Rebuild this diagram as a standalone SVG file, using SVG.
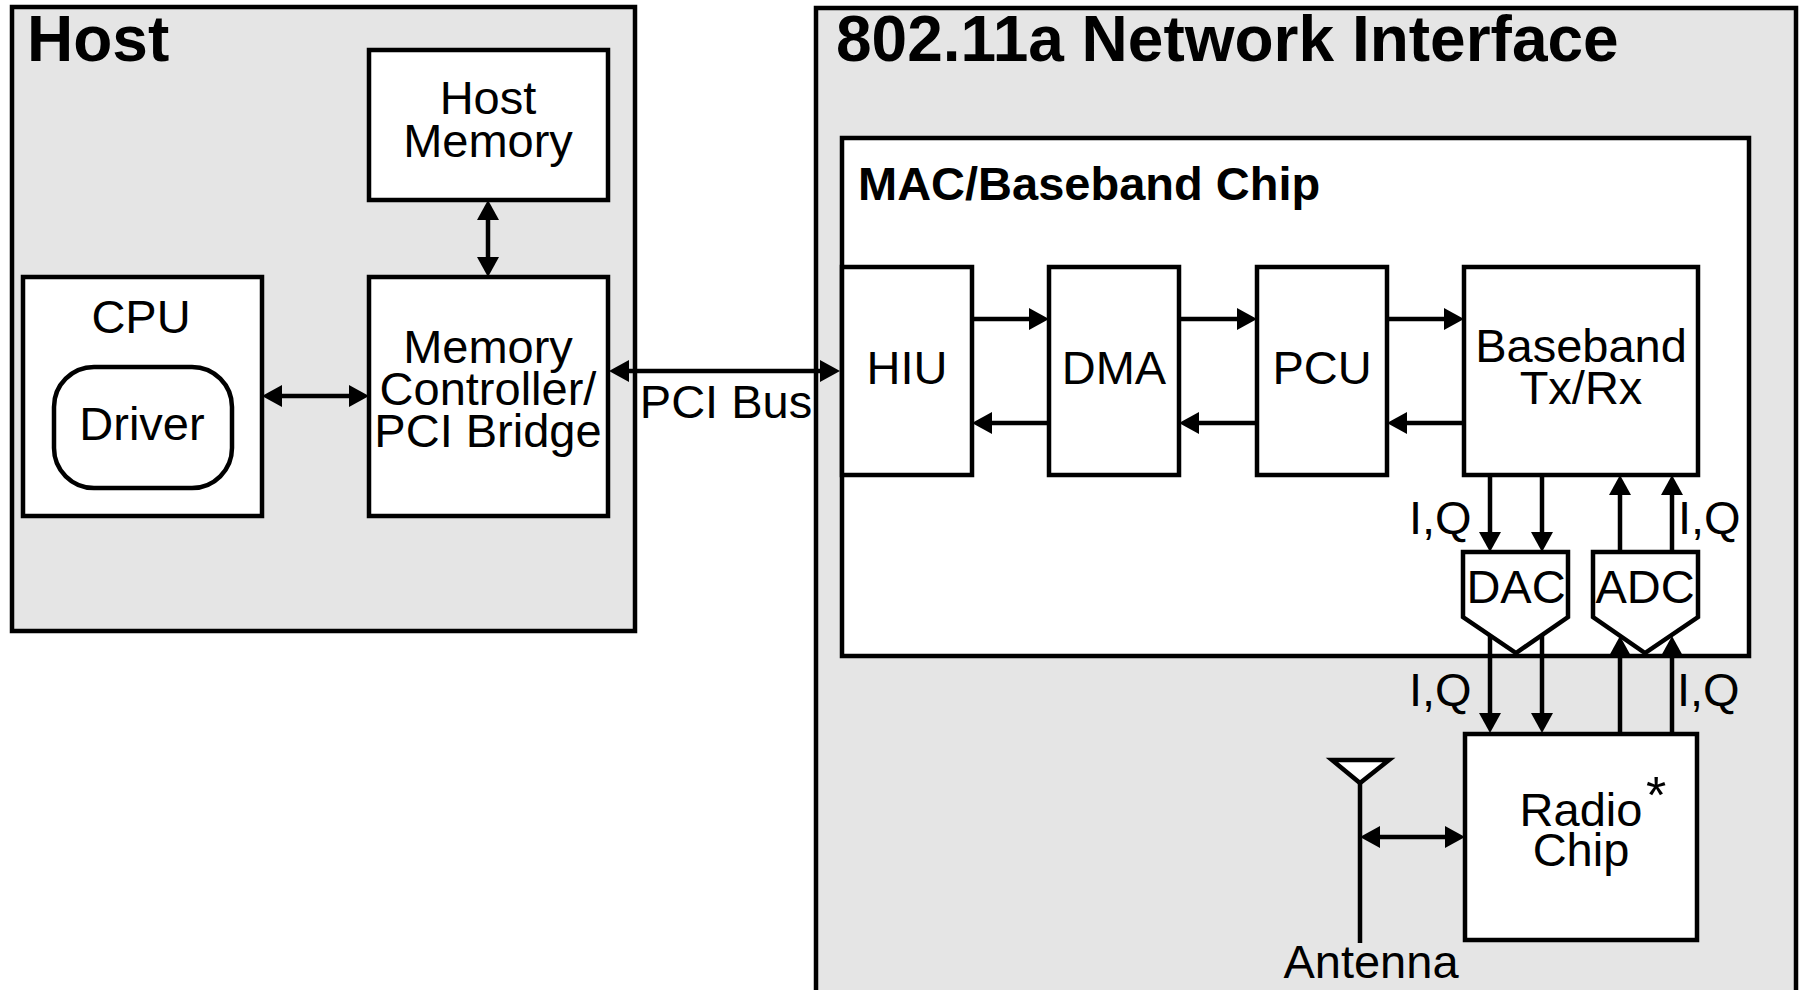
<svg xmlns="http://www.w3.org/2000/svg" width="1803" height="990" viewBox="0 0 1803 990">
<style>
.outer{fill:#e5e5e5;stroke:#000;stroke-width:4.5}
.box{fill:#fff;stroke:#000;stroke-width:4.5}
.ln{fill:none;stroke:#000;stroke-width:4.5}
text{font-family:"Liberation Sans",Arial,Helvetica,sans-serif;fill:#000}
.lbl{font-size:47px;text-anchor:middle}
.lbs{font-size:47px}
.ttl{font-size:64px;font-weight:bold}
.sub{font-size:47px;font-weight:bold}
</style>
<defs>
<marker id="ah" viewBox="0 0 20 22" refX="10" refY="11" markerWidth="20" markerHeight="22" markerUnits="userSpaceOnUse" orient="auto-start-reverse">
<path d="M0,0 L20,11 L0,22 z" fill="#000"/>
</marker>
</defs>
<rect width="1803" height="990" fill="#fff"/>

<g id="host">
<rect class="outer" x="12" y="7" width="623" height="624"/>
<text class="ttl" x="27" y="61">Host</text>
</g>
<g id="host-memory">
<rect class="box" x="369" y="50" width="239" height="150"/>
<text class="lbl" x="488" y="114">Host</text>
<text class="lbl" x="488" y="157">Memory</text>
</g>
<g id="memory-controller">
<rect class="box" x="369" y="277" width="239" height="239"/>
<text class="lbl" x="488" y="363">Memory</text>
<text class="lbl" x="488" y="405">Controller/</text>
<text class="lbl" x="488" y="447">PCI Bridge</text>
</g>
<g id="cpu">
<rect class="box" x="23" y="277" width="239" height="239"/>
<text class="lbl" x="141" y="333">CPU</text>
</g>
<g id="driver">
<rect class="box" x="54" y="367" width="178" height="121" rx="40" ry="40"/>
<text class="lbl" x="142" y="440">Driver</text>
</g>

<g id="network-interface">
<rect class="outer" x="816" y="8" width="980" height="1000"/>
<text class="ttl" x="836" y="61">802.11a Network Interface</text>
</g>
<g id="mac-baseband-chip">
<rect class="box" x="842" y="138" width="907" height="518"/>
<text class="sub" x="858" y="200">MAC/Baseband Chip</text>
</g>
<g id="hiu">
<rect class="box" x="842" y="267" width="130" height="208"/>
<text class="lbl" x="907" y="384">HIU</text>
</g>
<g id="dma">
<rect class="box" x="1049" y="267" width="130" height="208"/>
<text class="lbl" x="1114" y="384">DMA</text>
</g>
<g id="pcu">
<rect class="box" x="1257" y="267" width="130" height="208"/>
<text class="lbl" x="1322" y="384">PCU</text>
</g>
<g id="baseband">
<rect class="box" x="1464" y="267" width="234" height="208"/>
<text class="lbl" x="1581" y="362">Baseband</text>
<text class="lbl" x="1581" y="404">Tx/Rx</text>
</g>
<g id="dac">
<polygon class="box" points="1463,552 1568,552 1568,617 1516,653 1463,617"/>
<text class="lbl" x="1516" y="603">DAC</text>
</g>
<g id="adc">
<polygon class="box" points="1593,552 1698,552 1698,617 1645,653 1593,617"/>
<text class="lbl" x="1645" y="603">ADC</text>
</g>
<g id="radio-chip">
<rect class="box" x="1465" y="734" width="232" height="206"/>
<text class="lbl" x="1581" y="826">Radio</text>
<text class="lbl" x="1581" y="866">Chip</text>
<text class="lbs" x="1646" y="813" style="font-size:52px">*</text>
</g>
<g id="antenna">
<polygon class="box" points="1332,760 1389,760 1360,783"/>
<line class="ln" x1="1360" y1="783" x2="1360" y2="943"/>
<text class="lbl" x="1371" y="978">Antenna</text>
</g>

<g id="connectors">
<line class="ln" x1="488" y1="210" x2="488" y2="267" marker-start="url(#ah)" marker-end="url(#ah)"/>
<line class="ln" x1="272" y1="396" x2="359" y2="396" marker-start="url(#ah)" marker-end="url(#ah)"/>
<line class="ln" x1="619" y1="371" x2="830" y2="371" marker-start="url(#ah)" marker-end="url(#ah)"/>
<text class="lbl" x="726" y="418">PCI Bus</text>
<line class="ln" x1="972" y1="319" x2="1039" y2="319" marker-end="url(#ah)"/>
<line class="ln" x1="1179" y1="319" x2="1247" y2="319" marker-end="url(#ah)"/>
<line class="ln" x1="1387" y1="319" x2="1454" y2="319" marker-end="url(#ah)"/>
<line class="ln" x1="1049" y1="423" x2="982" y2="423" marker-end="url(#ah)"/>
<line class="ln" x1="1257" y1="423" x2="1189" y2="423" marker-end="url(#ah)"/>
<line class="ln" x1="1464" y1="423" x2="1397" y2="423" marker-end="url(#ah)"/>
<line class="ln" x1="1490" y1="475" x2="1490" y2="542" marker-end="url(#ah)"/>
<line class="ln" x1="1542" y1="475" x2="1542" y2="542" marker-end="url(#ah)"/>
<line class="ln" x1="1620" y1="552" x2="1620" y2="485" marker-end="url(#ah)"/>
<line class="ln" x1="1672" y1="552" x2="1672" y2="485" marker-end="url(#ah)"/>
<text class="lbs" x="1409" y="534">I,Q</text>
<text class="lbs" x="1678" y="534">I,Q</text>
<line class="ln" x1="1490" y1="635" x2="1490" y2="723" marker-end="url(#ah)"/>
<line class="ln" x1="1542" y1="635" x2="1542" y2="723" marker-end="url(#ah)"/>
<line class="ln" x1="1620" y1="734" x2="1620" y2="646" marker-end="url(#ah)"/>
<line class="ln" x1="1672" y1="734" x2="1672" y2="646" marker-end="url(#ah)"/>
<text class="lbs" x="1409" y="706">I,Q</text>
<text class="lbs" x="1677" y="706">I,Q</text>
<line class="ln" x1="1370" y1="837" x2="1455" y2="837" marker-start="url(#ah)" marker-end="url(#ah)"/>
</g>
</svg>
